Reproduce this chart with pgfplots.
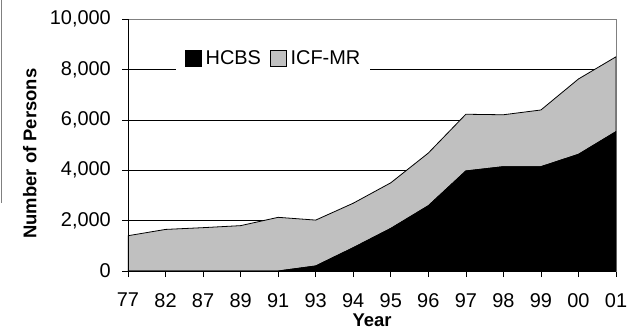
\documentclass[border=0pt]{standalone}
\usepackage{fontspec}
\setmainfont{Liberation Sans}
\usepackage{pgfplots}
\pgfplotsset{compat=1.18}
\usetikzlibrary{calc}
\definecolor{silver}{RGB}{192,192,192}
\begin{document}
\begin{tikzpicture}
\begin{axis}[name=ax, scale only axis, width=488bp, height=252bp,
  xmin=0, xmax=13, ymin=0, ymax=10000,
  xtick={0,...,13},
  xticklabels={77,82,87,89,91,93,94,95,96,97,98,99,00,01},
  ytick={0,2000,...,10000},
  ymajorgrids, major grid style={black, line width=0.6pt},
  stack plots=y,
  axis line style={draw=gray, line width=0.8pt},
  tick align=outside, tick pos=left, major tick length=6bp,
  tick style={black, line width=0.6pt},
  /pgf/number format/assume math mode=true,
  /pgf/number format/1000 sep={,},
  scaled y ticks=false,
  ticklabel style={font=\fontsize{20}{23}\selectfont},
  yticklabel style={inner sep=0pt, xshift=-11bp},
  xticklabel style={inner sep=0pt, yshift=-16bp},
  xlabel={Year},
  xlabel style={font=\bfseries\fontsize{18.5}{21}\selectfont, at={(axis description cs:0.5,-0.22)}, anchor=base},
  ylabel={Number of Persons},
  ylabel style={font=\bfseries\fontsize{18.5}{21}\selectfont, at={(axis description cs:-0.201,0.466)}, anchor=center},
  legend image code/.code={\draw[#1,draw=black,line width=0.6pt] (0bp,-8bp) rectangle (16bp,8bp);},
  legend style={at={(rel axis cs:0.098,0.845)}, anchor=west, draw=none, fill=white,
    inner xsep=9bp, nodes={inner xsep=1bp},
    font=\fontsize{20}{23}\selectfont, legend columns=2,
    /tikz/every odd column/.append style={column sep=3bp},
    /tikz/every even column/.append style={column sep=8bp}},
]
\addplot[fill=black, draw=black, line width=0.8pt] coordinates {
(0,0)(1,0)(2,0)(3,0)(4,0)(5,200)(6,925)(7,1690)(8,2590)(9,3970)(10,4140)(11,4140)(12,4630)(13,5530)
} \closedcycle;
\addplot[fill=silver, draw=black, line width=0.8pt] coordinates {
(0,1400)(1,1650)(2,1720)(3,1800)(4,2130)(5,1820)(6,1765)(7,1810)(8,2090)(9,2250)(10,2060)(11,2250)(12,2990)(13,2970)
} \closedcycle;
\legend{HCBS, ICF-MR}
\end{axis}
\draw[black, line width=0.8pt] (ax.south west) -- (ax.north west);
\draw[black, line width=0.8pt] (ax.south west) -- (ax.south east);
\draw[gray, line width=0.8pt] ($(ax.south west)+(-126.5bp,68bp)$) -- ($(ax.north west)+(-126.5bp,19bp)$);
\pgfresetboundingbox
\path ($(ax.south west)+(-128bp,-60bp)$) rectangle ($(ax.north east)+(13bp,19bp)$);
\end{tikzpicture}
\end{document}
